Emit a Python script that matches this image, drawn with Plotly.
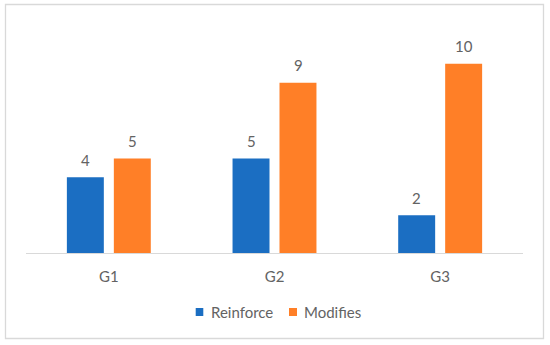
import plotly.graph_objects as go

categories = ["G1", "G2", "G3"]
series_names = ["Reinforce", "Modifies"]
reinforce = [4, 5, 2]
modifies = [5, 9, 10]
colors = ["#1B6EC2", "#FF7F27"]

W, H = 550, 345
ML, MR, MT, MB = 26, 27, 26, 92
PW, PH = W - ML - MR, H - MT - MB
FONT = "Lato"
TXT = "#636363"


def px2x(px):
    return (px - ML) / PW


def px2y(py):
    return (H - MB - py) / PH


fig = go.Figure()
values = [reinforce, modifies]
for name, vals, col in zip(series_names, values, colors):
    fig.add_trace(go.Bar(x=categories, y=vals, name=name, marker_color=col,
                         marker_line_width=0, showlegend=False, hoverinfo="skip"))

# data labels
slot_half = 23.5
for i, vals in enumerate(values):
    shift = -slot_half if i == 0 else slot_half
    for c, v in zip(categories, vals):
        fig.add_annotation(x=c, y=v, text=str(v), showarrow=False,
                           xshift=shift, yshift=17.5, yanchor="middle",
                           font=dict(family=FONT, size=15, color=TXT))

# custom legend
legend_sq = [(195.7, 203.3), (289.0, 297.0)]
legend_txt = [209.0, 302.0]
for name, col, (sx0, sx1), tx in zip(series_names, colors, legend_sq, legend_txt):
    fig.add_shape(type="rect", xref="paper", yref="paper",
                  x0=px2x(sx0), x1=px2x(sx1), y0=px2y(316), y1=px2y(308),
                  fillcolor=col, line_width=0)
    fig.add_annotation(xref="paper", yref="paper", x=px2x(tx), y=px2y(312),
                       text=name, showarrow=False, xanchor="left", yanchor="middle",
                       font=dict(family=FONT, size=15, color=TXT))

# outer border
fig.add_shape(type="rect", xref="paper", yref="paper",
              x0=px2x(5.5), x1=px2x(543.5), y0=px2y(338.5), y1=px2y(4.5),
              line=dict(color="#D9D9D9", width=1.3), fillcolor="rgba(0,0,0,0)")

fig.update_layout(
    width=W, height=H,
    margin=dict(l=ML, r=MR, t=MT, b=MB),
    paper_bgcolor="white", plot_bgcolor="white",
    barmode="group", bargap=0.433, bargroupgap=0.213,
    font=dict(family=FONT, size=15, color=TXT),
    xaxis=dict(showline=True, linecolor="#D9D9D9", linewidth=1.3,
               showgrid=False, ticks="", ticklabelstandoff=10,
               tickfont=dict(family=FONT, size=15, color=TXT)),
    yaxis=dict(range=[0, 12], visible=False, showgrid=False),
)

fig.write_html("out.html", config={"displayModeBar": False},
               post_script="document.body.style.margin='0';document.body.style.padding='0';")
